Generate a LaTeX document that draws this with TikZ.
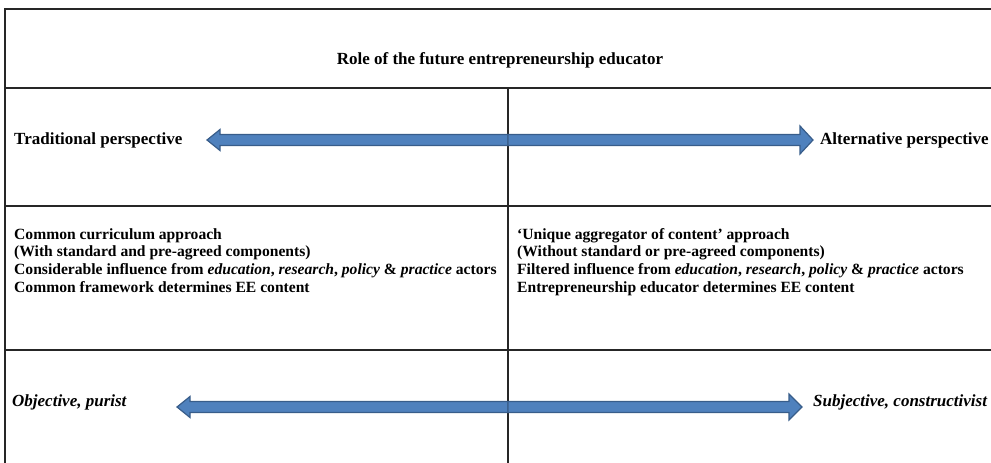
\documentclass[tikz,border=0pt]{standalone}
\usepackage{fontspec}
\setmainfont{Liberation Serif}
\usetikzlibrary{calc,positioning}

\definecolor{arrowfill}{HTML}{4F81BD}
\definecolor{arrowedge}{HTML}{385D8A}

\tikzset{
  grid line/.style={line width=1.1pt, black!85},
  label text/.style={font=\fontsize{17}{20}\selectfont\bfseries, inner sep=0pt},
  block text/.style={font=\fontsize{15.6}{17.7}\selectfont\bfseries, inner sep=0pt, align=left, anchor=north west},
  blockarrow/.style={fill=arrowfill, draw=arrowedge, line width=1.2pt, line join=miter}
}

% block arrow: #1 = start, #2 = tip, #3 = half height of the head
\newcommand{\blockarrow}[3]{%
  \draw[blockarrow] let \p1=(#1), \p2=(#2), \n1={sign(\x2-\x1)} in
    (\x1,\y1+5.5pt) -- (\x2-\n1*13pt,\y1+5.5pt) -- (\x2-\n1*13pt,\y1+#3)
    -- (\x2,\y1) -- (\x2-\n1*13pt,\y1-#3) -- (\x2-\n1*13pt,\y1-5.5pt)
    -- (\x1,\y1-5.5pt) -- cycle;}

\begin{document}
\begin{tikzpicture}[x=1pt, y=-1pt]

  % canvas
  \useasboundingbox (0,0) rectangle (991,463);

  % table frame
  \draw[grid line] (5,463) -- (5,9) -- (991,9);
  \draw[grid line] (5,88) -- (991,88);
  \draw[grid line] (5,206) -- (991,206);
  \draw[grid line] (5,350) -- (991,350);
  \draw[grid line] (508,88) -- (508,463);

  % title
  \node[label text] (title) at (500,60) {Role of the future entrepreneurship educator};

  % row 1: perspectives
  \node[label text, anchor=west] (trad) at (14,140.5) {Traditional perspective};
  \node[label text, anchor=west] (alt) at (820,140.5) {Alternative perspective};
  \coordinate (midtop) at (508,140);
  \coordinate (tiptopL) at (207,140);
  \coordinate (tiptopR) at (813,140);
  \blockarrow{midtop}{tiptopL}{10.5pt}
  \blockarrow{midtop}{tiptopR}{14pt}

  % row 2: approaches
  \node[block text] (common) at (14,228) {Common curriculum approach\\
    (With standard and pre-agreed components)\\
    Considerable influence from \textit{education}, \textit{research}, \textit{policy} \& \textit{practice} actors\\
    Common framework determines EE content};
  \node[block text] (unique) at (517,228) {`Unique aggregator of content' approach\\
    (Without standard or pre-agreed components)\\
    Filtered influence from \textit{education}, \textit{research}, \textit{policy} \& \textit{practice} actors\\
    Entrepreneurship educator determines EE content};

  % row 3: epistemology
  \node[label text, anchor=west, font=\fontsize{17}{20}\selectfont\bfseries\itshape] (obj) at (12,402.5) {Objective, purist};
  \node[label text, anchor=west, font=\fontsize{17}{20}\selectfont\bfseries\itshape] (subj) at (813,402.5) {Subjective, constructivist};
  \coordinate (midbot) at (508,407);
  \coordinate (tipbotL) at (177,407);
  \coordinate (tipbotR) at (802,407);
  \blockarrow{midbot}{tipbotL}{10.5pt}
  \blockarrow{midbot}{tipbotR}{13pt}

\end{tikzpicture}
\end{document}
